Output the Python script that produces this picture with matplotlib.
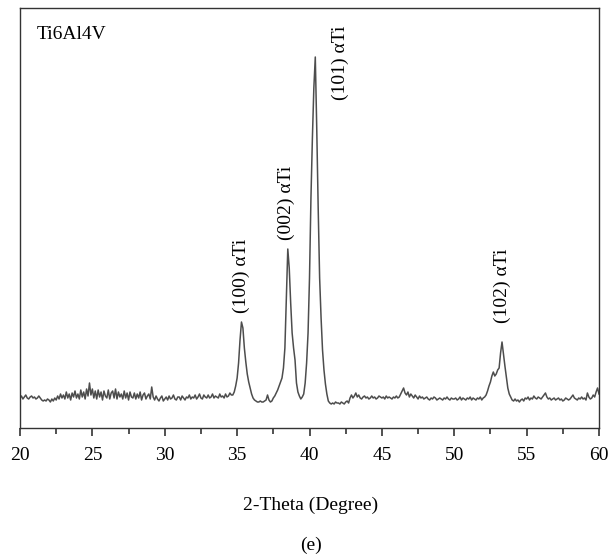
import matplotlib
matplotlib.use("Agg")
import matplotlib.pyplot as plt
from matplotlib.ticker import MultipleLocator
import numpy as np

# XRD scan of Ti6Al4V, 2-theta 20..60 deg at 0.1 deg steps (intensity in arbitrary units)
two_theta = np.linspace(20, 60, 401)
intensity = [
    30, 32, 29, 31, 33, 30, 29, 31, 32, 30,   # 20
    31, 29, 30, 32, 30, 28, 27, 28, 27, 29,   # 21
    28, 26, 29, 27, 30, 28, 32, 29, 34, 30,   # 22
    33, 29, 36, 30, 34, 28, 35, 31, 37, 30,   # 23
    34, 29, 38, 31, 36, 29, 39, 32, 45, 33,   # 24
    39, 30, 37, 29, 38, 31, 36, 28, 37, 32,   # 25
    30, 38, 29, 35, 37, 30, 39, 29, 36, 31,   # 26
    34, 29, 37, 30, 35, 28, 36, 31, 30, 35,   # 27
    29, 34, 30, 36, 28, 33, 35, 29, 32, 34,   # 28
    29, 41, 31, 28, 32, 29, 27, 30, 32, 27,   # 29
    29, 31, 28, 32, 29, 30, 33, 29, 28, 31,   # 30
    31, 28, 32, 30, 28, 31, 30, 33, 29, 31,   # 31
    30, 33, 29, 31, 34, 30, 29, 33, 31, 30,   # 32
    33, 30, 31, 34, 30, 32, 31, 30, 34, 31,   # 33
    32, 30, 34, 31, 32, 35, 33, 33, 36, 42,   # 34
    50, 65, 88, 106, 100, 80, 66, 54, 46, 40,  # 35
    34, 30, 28, 27, 26, 26, 27, 26, 26, 27,   # 36
    28, 33, 28, 26, 27, 30, 32, 35, 38, 42,   # 37
    46, 50, 60, 80, 130, 179, 160, 125, 95, 80,  # 38
    68, 45, 36, 32, 29, 31, 34, 45, 65, 95,   # 39
    150, 230, 290, 340, 371, 300, 220, 150, 110, 78,  # 40
    58, 44, 34, 27, 25, 24, 25, 24, 26, 25,   # 41
    25, 24, 26, 25, 24, 26, 27, 25, 30, 33,   # 42
    30, 32, 35, 31, 33, 30, 29, 31, 32, 30,   # 43
    31, 29, 30, 32, 30, 31, 29, 30, 32, 31,   # 44
    30, 31, 29, 32, 30, 31, 30, 29, 31, 30,   # 45
    32, 30, 31, 34, 37, 40, 35, 33, 36, 31,   # 46
    34, 32, 30, 33, 31, 29, 32, 30, 31, 29,   # 47
    30, 31, 29, 28, 30, 29, 31, 30, 28, 29,   # 48
    30, 29, 28, 30, 29, 31, 29, 28, 30, 29,   # 49
    29, 30, 28, 29, 31, 28, 30, 29, 28, 30,   # 50
    29, 31, 28, 30, 29, 28, 30, 29, 31, 28,   # 51
    30, 31, 33, 37, 42, 46, 52, 56, 52, 54,   # 52
    58, 60, 75, 86, 74, 62, 51, 40, 34, 31,   # 53
    28, 27, 29, 27, 28, 26, 28, 29, 27, 30,   # 54
    29, 31, 28, 30, 29, 32, 30, 29, 31, 30,   # 55
    29, 31, 33, 35, 31, 29, 30, 28, 29, 30,   # 56
    28, 29, 30, 28, 29, 27, 28, 30, 29, 28,   # 57
    29, 31, 33, 30, 29, 28, 30, 29, 31, 29,   # 58
    30, 28, 35, 31, 29, 30, 33, 31, 36, 40,   # 59
    34,                                       # 60
]

# peak labels: text, 2-theta position, intensity where the label starts
peak_labels = ["(100) \u03b1Ti", "(002) \u03b1Ti", "(101) \u03b1Ti", "(102) \u03b1Ti"]
peak_pos = [35.3, 38.4, 42.1, 53.3]
peak_label_y = [115, 188, 328, 105]

SERIF = ['Liberation Serif', 'DejaVu Serif']
plt.rcParams['font.family'] = SERIF
FS = 14

fig = plt.figure(figsize=(6.09, 5.54), dpi=100)
ax = fig.add_axes([20 / 609, 1 - 428 / 554, 579 / 609, 420 / 554])

ax.plot(two_theta, intensity, color='#4d4d4d', linewidth=1.1)

ax.set_xlim(20, 60)
ax.set_ylim(0, 420)
ax.xaxis.set_major_locator(MultipleLocator(5))
ax.xaxis.set_minor_locator(MultipleLocator(2.5))
ax.tick_params(axis='x', which='major', direction='out', length=6, width=1.1,
               color='#222222', labelsize=FS, pad=8)
ax.tick_params(axis='x', which='minor', direction='out', length=4, width=1.1,
               color='#222222')
ax.set_yticks([])
for sp in ax.spines.values():
    sp.set_color('#333333')
    sp.set_linewidth(1.0)

ax.text(0.029, 0.938, 'Ti6Al4V', transform=ax.transAxes, fontsize=FS,
        ha='left', va='center')

for lab, x, y in zip(peak_labels, peak_pos, peak_label_y):
    ax.text(x, y, lab, rotation=90, fontsize=FS, ha='center', va='bottom')

fig.text(311 / 609, 1 - 505 / 554, '2-Theta (Degree)', fontsize=FS,
         ha='center', va='center')
fig.text(311 / 609, 1 - 545 / 554, '(e)', fontsize=FS, ha='center', va='center')

fig.savefig('out.png', dpi=100)
